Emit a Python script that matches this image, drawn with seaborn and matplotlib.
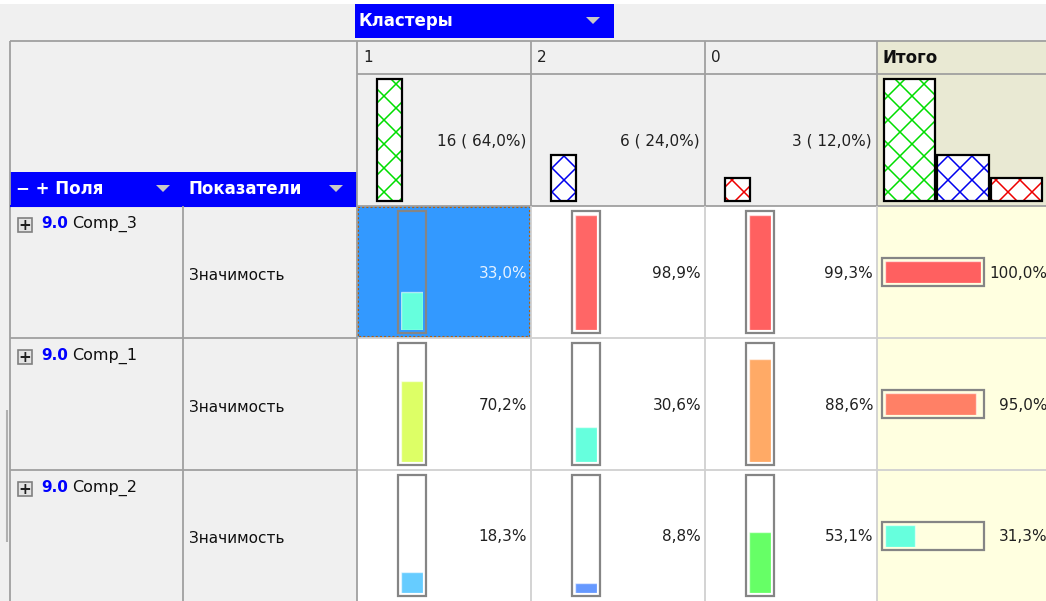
import matplotlib
matplotlib.use("Agg")
import matplotlib.pyplot as plt
from matplotlib.patches import Rectangle, Polygon
import seaborn as sns

clusters = ["1", "2", "0"]
cluster_counts = [16, 6, 3]
components = ["Comp_3", "Comp_1", "Comp_2"]
component_weight = "9.0"
measure = "Значимость"
# significance (%) per component (rows) and cluster (columns)
significance = [
    [33.0, 98.9, 99.3],
    [70.2, 30.6, 88.6],
    [18.3, 8.8, 53.1],
]
significance_total = [100.0, 95.0, 31.3]

# --- styles ---
hatch_colors = ["#00DD00", "#0000EE", "#EE0000"]
bar_colors = [
    ["#66FFDD", "#FF6666", "#FF6060"],
    ["#DDFF66", "#66FFDD", "#FFAA66"],
    ["#66CCFF", "#6699FF", "#66FF66"],
]
total_colors = ["#FF6060", "#FF8066", "#66FFDD"]

W, H = 1046, 601
DPI = 72          # hatch cells come out ~12 px at this dpi
S = 100 / DPI     # so sizes are given as if at 100 dpi
col_left = [357, 531, 705]
col_right = [531, 705, 877]
row_top = [206, 338, 470]
row_bot = [338, 470, 601]

sns.set_theme(style="white")
plt.rcParams["font.family"] = ["DejaVu Sans"]
plt.rcParams["hatch.linewidth"] = 1.1 * S

fig = plt.figure(figsize=(W / DPI, H / DPI), dpi=DPI)
fig.patch.set_facecolor("#F0F0F0")
bg = fig.add_axes([0, 0, 1, 1])
bg.set_xlim(0, W)
bg.set_ylim(H, 0)
bg.axis("off")


def box(x0, y0, x1, y1, lw=0, **kw):
    bg.add_patch(Rectangle((x0, y0), x1 - x0, y1 - y0, lw=lw * S, **kw))


def line(x0, y0, x1, y1, color="#A0A0A0", lw=1.3):
    bg.plot([x0, x1], [y0, y1], color=color, lw=lw * S, solid_capstyle="butt")


def label(x, y, s, size=11, **kw):
    bg.text(x, y, s, fontsize=size * S, va="center", **kw)


def inset(x0, y0, x1, y1):
    ax = fig.add_axes([x0 / W, 1 - y1 / H, (x1 - x0) / W, (y1 - y0) / H])
    ax.axis("off")
    return ax


def triangle(xc, yc):
    bg.add_patch(Polygon([[xc - 7, yc - 4], [xc + 7, yc - 4], [xc, yc + 3]],
                         closed=True, color="#C8C8C8", lw=0))


# backgrounds
box(0, 0, W, 4, color="white")
box(357, 206, 877, H, color="white")
box(877, 206, W, H, color="#FFFFE0")
box(877, 41, W, 206, color="#E9E9D3")
box(357, 206, 531, 338, color="#3399FF")

# blue field headers
box(355, 4, 614, 38, color="#0000FF")
label(359, 21, "Кластеры", 12, color="white", fontweight="bold")
triangle(593, 21)
box(10, 172, 357, 206, color="#0000FF")
label(16, 189, "− + Поля", 12, color="white", fontweight="bold")
triangle(163, 189)
label(189, 189, "Показатели", 12, color="white", fontweight="bold")
triangle(336, 189)

# grid lines
line(10, 41, W, 41)
line(10, 41, 10, H)
line(357, 74, W, 74)
line(357, 206, W, 206)
line(10, 206, 357, 206, color="#0000FF", lw=1.5)
for y in row_top[1:]:
    line(10, y, 357, y)
    line(357, y, W, y, color="#D0D0D0")
line(183, 206, 183, H)
line(357, 41, 357, H)
for x in col_right:
    line(x, 41, x, 206)
    line(x, 206, x, H, color="#D0D0D0")
line(7, 410, 7, 542, color="#B0B0B0", lw=1.5)

# column headers
for x0, name in zip(col_left, clusters):
    label(x0 + 6, 58, name, 11, color="#202020")
label(882, 58, "Итого", 12, fontweight="bold", color="#101010")


def hatched_bars(ax, labels, counts, colors, width):
    sns.barplot(x=labels, y=counts, ax=ax, color="white", width=width,
                saturation=1, errorbar=None, linewidth=0)
    for p, c in zip(ax.patches, colors):
        p.set_hatch("x")
        p.set_edgecolor(c)
        ax.add_patch(Rectangle(p.get_xy(), p.get_width(), p.get_height(),
                               fill=False, ec="black", lw=1.6 * S, clip_on=False))
    ax.set_ylim(0, max(cluster_counts))
    ax.set_xlim(-0.5, len(labels) - 0.5)
    ax.axis("off")


total = sum(cluster_counts)
for i, (x0, name, n) in enumerate(zip(col_left, clusters, cluster_counts)):
    ax = inset(x0 + 20, 79, x0 + 45, 201)
    hatched_bars(ax, [name], [n], [hatch_colors[i]], 1.0)
    pct = f"{n / total * 100:.1f}".replace(".", ",")
    label(col_right[i] - 5, 141, f"{n} ( {pct}%)", 11, ha="right", color="#202020")

ax = inset(883, 79, 1043, 201)
hatched_bars(ax, clusters, cluster_counts, hatch_colors, 0.957)

# data rows
for r, comp in enumerate(components):
    rt, rb = row_top[r], row_bot[r]
    mid = (rt + rb) / 2
    # left labels
    box(18, rt + 12, 32, rt + 26, fc="#E4E4E4", ec="#808080", lw=1.2)
    label(25, rt + 19, "+", 11, fontweight="bold", ha="center", color="#202020")
    label(41, rt + 18, component_weight, 11, fontweight="bold", color="#0000FF")
    label(72, rt + 18, comp, 11.5, color="#101010")
    label(189, mid + 3, measure, 11, color="#101010")

    for c in range(3):
        fx0 = col_left[c] + 41
        fy0, fy1 = rt + 5, rb - 5
        if not (r == 0 and c == 0):
            box(fx0, fy0, fx0 + 28, fy1, fc="white")
        box(fx0, fy0, fx0 + 28, fy1, fill=False, ec="#858585", lw=1.6)
        ax = inset(fx0 + 3, fy0 + 3, fx0 + 25, fy1 - 3)
        sns.barplot(x=[comp], y=[significance[r][c]], ax=ax, color=bar_colors[r][c],
                    width=1.0, saturation=1, errorbar=None,
                    edgecolor=(1, 1, 1, 0.55), linewidth=1 * S)
        ax.set_xlim(-0.5, 0.5)
        ax.set_ylim(0, 100)
        ax.axis("off")
        txt = f"{significance[r][c]:.1f}%".replace(".", ",")
        tcol = "#E6F2FF" if (r == 0 and c == 0) else "#202020"
        label(col_right[c] - 4, mid + 1, txt, 11, ha="right", color=tcol)

    # total horizontal gauge
    gy0, gy1 = rt + 52, rt + 80
    box(882, gy0, 984, gy1, fc="#FFFFE0", ec="#858585", lw=1.6)
    ax = inset(885, gy0 + 3, 981, gy1 - 3)
    sns.barplot(x=[significance_total[r]], y=[comp], orient="h", ax=ax,
                color=total_colors[r], width=1.0, saturation=1, errorbar=None,
                edgecolor=(1, 1, 1, 0.55), linewidth=1 * S)
    ax.set_xlim(0, 100)
    ax.set_ylim(0.5, -0.5)
    ax.axis("off")
    txt = f"{significance_total[r]:.1f}%".replace(".", ",")
    label(1047, mid + 1, txt, 11, ha="right", color="#202020")

# selected cell focus border
box(358, 207, 530, 337, fill=False, ec="#B06010", lw=1.5, ls=(0, (1, 1)))

fig.savefig("out.png", dpi=DPI, facecolor=fig.get_facecolor())
